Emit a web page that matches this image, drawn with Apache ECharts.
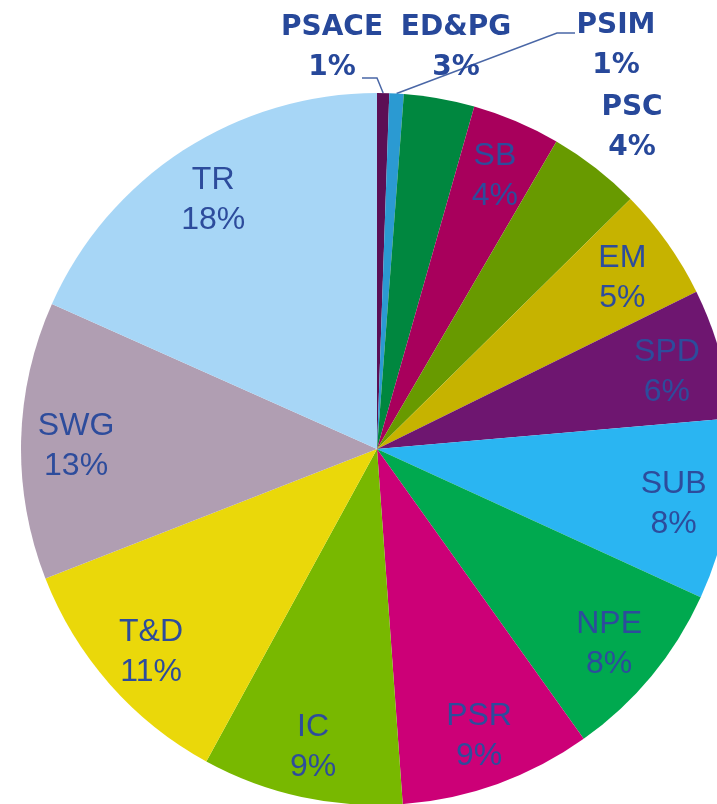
<!DOCTYPE html>
<html>
<head>
<meta charset="utf-8">
<script src="https://cdn.jsdelivr.net/npm/echarts@6/dist/echarts.min.js"></script>
<style>
  html, body { margin: 0; padding: 0; background: #ffffff; }
  #chart { width: 717px; height: 804px; }
</style>
</head>
<body>
<div id="chart"></div>
<script>
// Categories in clockwise order starting at 12 o'clock
const categories = ['PSACE', 'PSIM', 'ED&PG', 'SB', 'PSC', 'EM', 'SPD', 'SUB', 'NPE', 'PSR', 'IC', 'T&D', 'SWG', 'TR'];
// Share values (%)
const shares = [0.55, 0.65, 3.2, 4.0, 4.2, 5.1, 5.9, 8.2, 8.3, 8.7, 9.1, 11.1, 12.6, 18.3];
// Slice colours
const sliceColors = ['#5C0F55', '#2B9AD2', '#00873F', '#A8005C', '#689A00', '#C6B300', '#6E1670',
                     '#2AB5F2', '#00A94F', '#CC0077', '#78B800', '#EAD80A', '#B09EB2', '#A7D6F6'];
// Categories whose labels sit outside the pie
const outsideCats = ['PSACE', 'ED&PG', 'PSIM', 'PSC'];
const leaderCats = ['PSACE', 'PSIM'];

// layout of outside labels (text block centres) and leader-line elbows
const outsideLabelPos = {
  'PSACE': [332, 48],
  'ED&PG': [456, 48],
  'PSIM': [616, 46],
  'PSC': [632, 128]
};
const leaderElbows = {
  'PSACE': [[377, 78], [362, 78]],
  'PSIM': [[557, 33], [575, 33]]
};

const CENTER = [377, 449];
const R = 356;
const fmt = p => p.name + '\n' + Math.round(p.percent) + '%';

const chart = echarts.init(document.getElementById('chart'), null, { renderer: 'canvas' });

const option = {
  backgroundColor: '#ffffff',
  animation: false,
  series: [
    {
      type: 'pie',
      center: CENTER,
      radius: R,
      startAngle: 90,
      clockwise: true,
      silent: true,
      avoidLabelOverlap: false,
      data: categories.map((n, i) => ({
        name: n,
        value: shares[i],
        itemStyle: { color: sliceColors[i] },
        label: { show: outsideCats.includes(n) },
        labelLine: { show: leaderCats.includes(n) }
      })),
      label: {
        position: 'outside',
        formatter: fmt,
        fontFamily: 'DejaVu Sans',
        fontWeight: 'bold',
        fontSize: 28,
        lineHeight: 40,
        color: '#27489A',
        align: 'center'
      },
      labelLine: {
        length: 8,
        length2: 12,
        lineStyle: { color: '#4A67A6', width: 1.5 }
      },
      labelLayout: function (params) {
        const n = categories[params.dataIndex];
        const pos = outsideLabelPos[n];
        if (!pos) return {};
        const out = { x: pos[0], y: pos[1], align: 'center', verticalAlign: 'middle' };
        const elb = leaderElbows[n];
        if (elb && params.labelLinePoints && params.labelLinePoints.length) {
          const start = params.labelLinePoints[0];
          out.labelLinePoints = [[start[0], start[1]], elb[0], elb[1]];
        }
        return out;
      }
    },
    {
      type: 'pie',
      center: CENTER,
      radius: [240, R],
      startAngle: 90,
      clockwise: true,
      silent: true,
      avoidLabelOverlap: false,
      itemStyle: { color: 'rgba(0,0,0,0)' },
      data: categories.map((n, i) => ({
        name: n,
        value: shares[i],
        label: { show: !outsideCats.includes(n) }
      })),
      label: {
        position: 'inside',
        formatter: fmt,
        fontFamily: 'Liberation Sans, Arial, sans-serif',
        fontSize: 32,
        lineHeight: 40,
        color: '#2D4C9C',
        align: 'center'
      },
      labelLayout: function () {
        return { dy: 4 };
      },
      labelLine: { show: false }
    }
  ]
};

chart.setOption(option);
</script>
</body>
</html>
